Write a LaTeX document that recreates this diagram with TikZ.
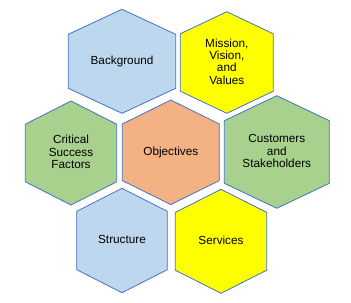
\documentclass[tikz,border=0pt]{standalone}
\usepackage{fontspec}
\setmainfont{Liberation Sans}
\definecolor{hexblue}{HTML}{BDD7EE}
\definecolor{hexyellow}{HTML}{FFFF00}
\definecolor{hexgreen}{HTML}{A9D18E}
\definecolor{hexorange}{HTML}{F4B183}
\definecolor{hexborder}{HTML}{4472C4}
\newcommand\hexshape[6]{%
  \filldraw[hexline, fill=#6] (#1,#2-#4) -- (#1+#3,#2-#5) -- (#1+#3,#2+#5) -- (#1,#2+#4) -- (#1-#3,#2+#5) -- (#1-#3,#2-#5) -- cycle;}
\begin{document}
\begin{tikzpicture}[x=1bp,y=-1bp,
  hexline/.style={draw=hexborder, line width=0.8bp, line join=miter},
  label/.style={align=center, font=\fontsize{11.8}{12.5}\selectfont, inner sep=0pt, text=black}]
\useasboundingbox (0,0) rectangle (351,303);
\fill[white] (0,0) rectangle (351,303);
\hexshape{122}{61.3}{53.7}{52}{27}{hexblue}
\hexshape{226.8}{62.5}{46.5}{50.8}{28.7}{hexyellow}
\hexshape{71}{153}{45.7}{52}{28.8}{hexgreen}
\hexshape{170.8}{152.3}{48.5}{52.3}{28.3}{hexorange}
\hexshape{276.8}{152}{52.5}{56.3}{31.3}{hexgreen}
\hexshape{122}{240.5}{45.3}{52.2}{29.2}{hexblue}
\hexshape{221}{241.3}{45.7}{52}{28.9}{hexyellow}
\node[label] (bg) at (122,61) {Background};
\node[label] (mv) at (226.8,61.5) {Mission,\\Vision,\\and\\Values};
\node[label] (csf) at (71,152) {Critical\\Success\\Factors};
\node[label] (obj) at (170.8,152) {Objectives};
\node[label] (cs) at (276.8,151) {Customers\\and\\Stakeholders};
\node[label] (st) at (122,239.5) {Structure};
\node[label] (sv) at (221,240.3) {Services};
\end{tikzpicture}
\end{document}
